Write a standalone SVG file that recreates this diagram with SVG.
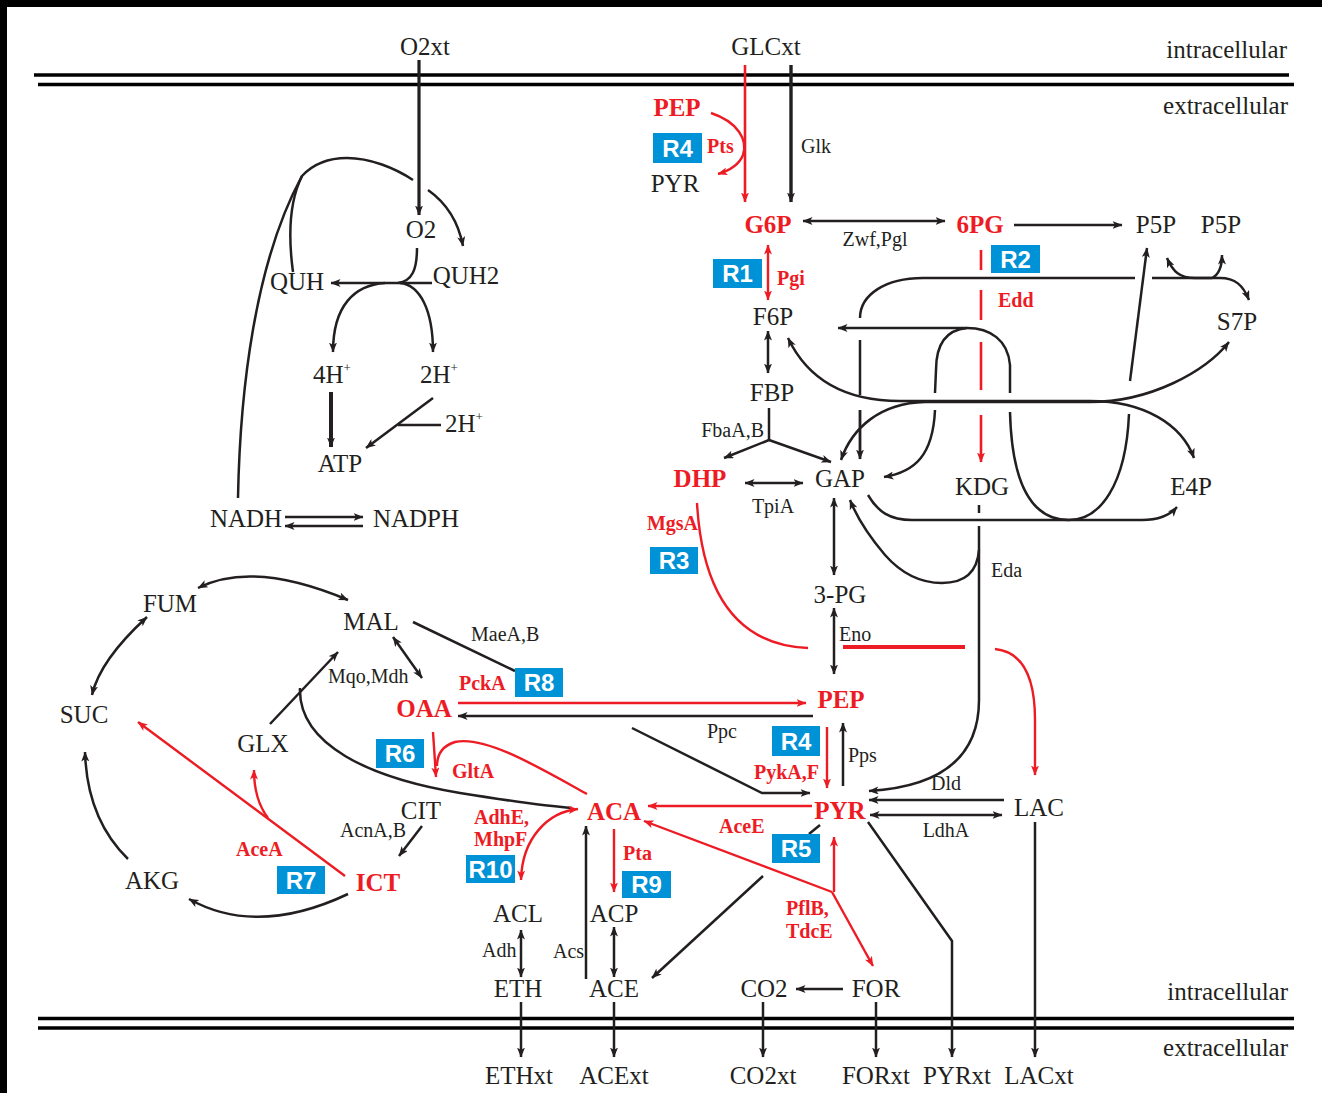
<svg xmlns="http://www.w3.org/2000/svg" width="1322" height="1093" viewBox="0 0 1322 1093">
<defs>
<marker id="ab" viewBox="0 0 10 8" refX="9.5" refY="4" markerWidth="10" markerHeight="8" markerUnits="userSpaceOnUse" orient="auto-start-reverse"><path d="M0,0 L10,4 L0,8 L2.5,4 z" fill="#231f20"/></marker>
<marker id="ar" viewBox="0 0 10 8" refX="9.5" refY="4" markerWidth="10" markerHeight="8" markerUnits="userSpaceOnUse" orient="auto-start-reverse"><path d="M0,0 L10,4 L0,8 L2.5,4 z" fill="#ed1c24"/></marker>
<style>
.k{fill:none;stroke:#231f20;stroke-width:2.5}
.r{fill:none;stroke:#ed1c24;stroke-width:2.4}
.e{marker-end:url(#ab)}
.s{marker-start:url(#ab)}
.er{marker-end:url(#ar)}
.sr{marker-start:url(#ar)}
.mem{stroke:#000;stroke-width:3.4}
text{font-family:"Liberation Serif","Times New Roman",serif}
.m{font-size:25px;fill:#231f20;text-anchor:middle}
.ms{font-size:25px;fill:#231f20;text-anchor:start}
.rm{font-size:25px;fill:#ed1c24;font-weight:bold;text-anchor:middle}
.en{font-size:20px;fill:#231f20}
.re{font-size:20px;fill:#ed1c24;font-weight:bold}
.cell{font-size:25px;fill:#231f20;text-anchor:end}
.box{fill:#0092d6}
.bt{font-family:"Liberation Sans",Arial,sans-serif;font-size:24px;font-weight:bold;fill:#fff;text-anchor:middle}
</style>
</defs>
<rect x="0" y="0" width="1322" height="1093" fill="#000"/>
<rect x="7" y="7" width="1315" height="1086" fill="#fff"/>

<g id="membranes">
<line class="mem" x1="34" y1="75" x2="1289" y2="75"/>
<line class="mem" x1="38" y1="84.5" x2="1294" y2="84.5"/>
<line class="mem" x1="38" y1="1018.5" x2="1294" y2="1018.5"/>
<line class="mem" x1="38" y1="1028" x2="1294" y2="1028"/>
<text class="cell" x="1287" y="58">intracellular</text>
<text class="cell" x="1288" y="114">extracellular</text>
<text class="cell" x="1288" y="1000">intracellular</text>
<text class="cell" x="1288" y="1056">extracellular</text>
</g>

<g id="connectors">
<!-- uptake -->
<path class="k e" style="stroke-width:3.2" d="M419,60 L419,215"/>
<path class="r er" style="stroke-width:2.6" d="M745,65 L745,202"/>
<path class="k e" style="stroke-width:3.4" d="M791,65 L791,202"/>
<path class="r er" d="M711,113 C738,122 748,140 743,155 C739,165 728,171 718,174"/>
<path class="k s e" d="M803,221 L945,221"/>
<path class="k e" d="M1014,225 L1122,225"/>
<path class="r sr er" d="M768,245 L768,300"/>
<path class="k s e" d="M768,331 L768,373"/>
<path class="k" d="M769,408 L769,440"/>
<path class="k e" d="M769,440 L724,458"/>
<path class="k e" d="M769,440 L831,462"/>
<path class="k s e" d="M745,483 L803,483"/>
<path class="k s e" d="M834,498 L834,575"/>
<path class="k s e" d="M834,608 L834,674"/>
<!-- ED pathway -->
<path class="r" style="stroke-width:2.6" d="M981,250 L981,270 M981,290 L981,320 M981,342 L981,390"/>
<path class="r er" style="stroke-width:2.6" d="M981,415 L981,462"/>
<!-- methylglyoxal -->
<path class="r" d="M697,503 C702,590 735,645 808,648"/>
<path class="r" style="stroke-width:4" d="M843,647 L965,647"/>
<path class="r er" d="M995,649 C1025,652 1035,680 1035,720 L1035,775"/>
<!-- PPP -->
<path class="k" d="M1135,278 L923,278 C885,278 860,295 860,318 M860,340 L860,395"/>
<path class="k e" style="stroke-width:2.8" d="M860,410 L860,459"/>
<path class="k e" d="M1152,278 L1220,278 C1235,278 1243,285 1249,300"/>
<path class="k s e" d="M1167,258 C1173,272 1180,278 1195,278 L1212,278 C1218,275 1222,268 1222,255"/>
<path class="k s" d="M1147,248 L1130,381"/>
<path class="k" d="M1129,414 C1126,485 1100,520 1069,520 C1035,520 1012,490 1010,412"/>
<path class="k e" d="M1010,393 L1010,365 C1008,340 990,328 967,328 L838,328"/>
<path class="k" d="M967,328 C945,330 936,345 936,370 L935,393"/>
<path class="k e" d="M935,410 C933,455 915,472 884,477"/>
<path class="k s e" d="M788,338 C808,380 845,401 900,401 L1090,401 C1145,401 1182,425 1194,458"/>
<path class="k s e" d="M841,460 C852,428 880,403 925,402 L1090,402 C1150,402 1205,372 1229,342"/>
<path class="k e" d="M868,495 C878,512 890,520 912,520 L1142,520 C1158,520 1170,515 1177,507"/>
<!-- Eda -->
<path class="k" d="M979,505 L979,513"/>
<path class="k e" d="M979,526 L979,700 C979,762 935,787 869,791"/>
<path class="k e" d="M979,550 C977,575 962,583 942,583 C920,583 900,572 885,555 C868,535 856,515 850,500"/>
<!-- respiration -->
<path class="k" d="M238,498 C240,390 255,262 302,176 C315,162 330,158 347,158 C370,158 395,168 413,180"/>
<path class="k e" d="M428,190 C445,202 458,220 463,246"/>
<path class="k" d="M293,272 C288,235 290,200 302,176"/>
<path class="k" d="M417,248 C417,270 412,281 398,283"/>
<path class="k e" d="M432,283 L331,283"/>
<path class="k e" d="M385,283 C355,285 333,305 333,352"/>
<path class="k e" d="M400,283 C420,285 433,310 433,352"/>
<path class="k e" style="stroke-width:4" d="M331,392 L331,447"/>
<path class="k e" d="M433,398 L366,448"/>
<path class="k" d="M398,425 L441,425"/>
<path class="k e" d="M285,517 L363,517"/>
<path class="k e" d="M363,526 L285,526"/>
<!-- TCA / glyoxylate -->
<path class="k s e" d="M198,588 Q253,560 348,600"/>
<path class="k s e" d="M92,695 Q100,660 147,617"/>
<path class="k e" d="M128,859 Q87,819 85,752"/>
<path class="k e" d="M348,894 Q257,937 189,899"/>
<path class="k e" d="M422,826 L399,856"/>
<path class="r er" d="M345,876 L138,722"/>
<path class="r er" d="M268,818 C258,805 254,790 254,770"/>
<path class="k e" d="M270,724 L338,652"/>
<path class="k" d="M300,688 C298,745 370,778 460,793 C510,801 545,806 572,808"/>
<path class="k s e" d="M393,637 L422,678"/>
<path class="k" d="M413,622 L515,671"/>
<path class="k e" d="M632,728 L762,793 L810,793"/>
<path class="r er" d="M458,703 L806,703"/>
<path class="k e" d="M813,716 L458,716"/>
<path class="r er" d="M433,732 L436,777"/>
<path class="r" d="M587,794 C540,768 485,735 455,742 C442,746 437,755 437,766"/>
<!-- PEP/PYR node -->
<path class="r er" d="M827,727 L827,788"/>
<path class="k e" d="M843,786 L843,723"/>
<path class="r er" d="M812,806 L648,806"/>
<path class="r er" d="M834,892 L834,837"/>
<path class="r er" d="M832,892 L644,821"/>
<path class="r er" d="M832,892 L873,966"/>
<path class="k" d="M820,825 L809,834"/>
<path class="k e" d="M763,876 L652,978"/>
<path class="k e" d="M1004,800 L869,800"/>
<path class="k s e" d="M870,815 L1002,815"/>
<!-- fermentation -->
<path class="r sr er" d="M578,809 C548,812 522,838 521,880"/>
<path class="r er" d="M614,829 L614,892"/>
<path class="k e" d="M586,979 L586,826"/>
<path class="k s e" d="M521,930 L521,977"/>
<path class="k s e" d="M614,927 L614,977"/>
<path class="k e" d="M843,989 L796,989"/>
<!-- secretion -->
<path class="k e" d="M521,1002 L521,1057"/>
<path class="k e" d="M614,1002 L614,1057"/>
<path class="k e" d="M763,1002 L763,1057"/>
<path class="k e" d="M876,1002 L876,1057"/>
<path class="k e" d="M868,822 L952,941 L952,1057"/>
<path class="k e" d="M1035,822 L1035,1057"/>
</g>

<g id="enzymes">
<text class="en" x="801" y="153">Glk</text>
<text class="en" x="875" y="246" text-anchor="middle">Zwf,Pgl</text>
<text class="en" x="764" y="437" text-anchor="end">FbaA,B</text>
<text class="en" x="773" y="513" text-anchor="middle">TpiA</text>
<text class="en" x="991" y="577">Eda</text>
<text class="en" x="839" y="641">Eno</text>
<text class="en" x="471" y="641">MaeA,B</text>
<text class="en" x="328" y="683">Mqo,Mdh</text>
<text class="en" x="707" y="738">Ppc</text>
<text class="en" x="848" y="762">Pps</text>
<text class="en" x="946" y="790" text-anchor="middle">Dld</text>
<text class="en" x="946" y="837" text-anchor="middle">LdhA</text>
<text class="en" x="340" y="837">AcnA,B</text>
<text class="en" x="482" y="957">Adh</text>
<text class="en" x="553" y="958">Acs</text>
<text class="re" x="707" y="153">Pts</text>
<text class="re" x="777" y="285">Pgi</text>
<text class="re" x="998" y="307">Edd</text>
<text class="re" x="698" y="530" text-anchor="end">MgsA</text>
<text class="re" x="459" y="690">PckA</text>
<text class="re" x="452" y="778">GltA</text>
<text class="re" x="236" y="856">AceA</text>
<text class="re" x="754" y="779">PykA,F</text>
<text class="re" x="719" y="833">AceE</text>
<text class="re" x="623" y="860">Pta</text>
<text class="re" x="474" y="824">AdhE,</text>
<text class="re" x="474" y="846">MhpF</text>
<text class="re" x="786" y="915">PflB,</text>
<text class="re" x="786" y="938">TdcE</text>
</g>

<g id="reactions">
<g id="R4a"><rect class="box" x="653" y="133" width="49" height="30"/><text class="bt" x="677.5" y="157">R4</text></g>
<g id="R1"><rect class="box" x="713" y="259" width="49" height="29"/><text class="bt" x="737.5" y="282">R1</text></g>
<g id="R2"><rect class="box" x="991" y="245" width="49" height="28"/><text class="bt" x="1015.5" y="268">R2</text></g>
<g id="R3"><rect class="box" x="650" y="547" width="48" height="27"/><text class="bt" x="674" y="569">R3</text></g>
<g id="R8"><rect class="box" x="515" y="668" width="48" height="29"/><text class="bt" x="539" y="691">R8</text></g>
<g id="R6"><rect class="box" x="376" y="739" width="48" height="29"/><text class="bt" x="400" y="762">R6</text></g>
<g id="R7"><rect class="box" x="277" y="866" width="48" height="28"/><text class="bt" x="301" y="889">R7</text></g>
<g id="R4b"><rect class="box" x="772" y="726" width="48" height="30"/><text class="bt" x="796" y="750">R4</text></g>
<g id="R5"><rect class="box" x="772" y="834" width="48" height="29"/><text class="bt" x="796" y="857">R5</text></g>
<g id="R10"><rect class="box" x="466" y="855" width="49" height="28"/><text class="bt" x="490.5" y="878">R10</text></g>
<g id="R9"><rect class="box" x="622" y="871" width="49" height="27"/><text class="bt" x="646.5" y="893">R9</text></g>
</g>

<g id="n-O2xt"><text class="m" x="425" y="55">O2xt</text></g>
<g id="n-GLCxt"><text class="m" x="766" y="55">GLCxt</text></g>
<g id="n-PEPtop"><text class="rm" x="677" y="116">PEP</text></g>
<g id="n-PYRtop"><text class="m" x="675" y="192">PYR</text></g>
<g id="n-G6P"><text class="rm" x="768" y="233">G6P</text></g>
<g id="n-6PG"><text class="rm" x="980" y="233">6PG</text></g>
<g id="n-P5P1"><text class="m" x="1156" y="233">P5P</text></g>
<g id="n-P5P2"><text class="m" x="1221" y="233">P5P</text></g>
<g id="n-S7P"><text class="m" x="1237" y="330">S7P</text></g>
<g id="n-F6P"><text class="m" x="773" y="325">F6P</text></g>
<g id="n-FBP"><text class="m" x="772" y="401">FBP</text></g>
<g id="n-DHP"><text class="rm" x="700" y="487">DHP</text></g>
<g id="n-GAP"><text class="m" x="840" y="487">GAP</text></g>
<g id="n-KDG"><text class="m" x="982" y="495">KDG</text></g>
<g id="n-E4P"><text class="m" x="1191" y="495">E4P</text></g>
<g id="n-3PG"><text class="m" x="840" y="603">3-PG</text></g>
<g id="n-PEP"><text class="rm" x="841" y="708">PEP</text></g>
<g id="n-PYR"><text class="rm" x="840" y="819">PYR</text></g>
<g id="n-LAC"><text class="m" x="1039" y="816">LAC</text></g>
<g id="n-O2"><text class="m" x="421" y="238">O2</text></g>
<g id="n-QUH"><text class="m" x="297" y="290">QUH</text></g>
<g id="n-QUH2"><text class="m" x="466" y="284">QUH2</text></g>
<g id="n-4H"><text class="ms" x="313" y="383">4H<tspan font-size="13" dy="-11">+</tspan></text></g>
<g id="n-2Ha"><text class="ms" x="420" y="383">2H<tspan font-size="13" dy="-11">+</tspan></text></g>
<g id="n-2Hb"><text class="ms" x="445" y="432">2H<tspan font-size="13" dy="-11">+</tspan></text></g>
<g id="n-ATP"><text class="m" x="340" y="472">ATP</text></g>
<g id="n-NADH"><text class="m" x="246" y="527">NADH</text></g>
<g id="n-NADPH"><text class="m" x="416" y="527">NADPH</text></g>
<g id="n-FUM"><text class="m" x="170" y="612">FUM</text></g>
<g id="n-MAL"><text class="m" x="371" y="630">MAL</text></g>
<g id="n-SUC"><text class="m" x="84" y="723">SUC</text></g>
<g id="n-OAA"><text class="rm" x="424" y="717">OAA</text></g>
<g id="n-GLX"><text class="m" x="263" y="752">GLX</text></g>
<g id="n-CIT"><text class="m" x="421" y="819">CIT</text></g>
<g id="n-ICT"><text class="rm" x="378" y="891">ICT</text></g>
<g id="n-AKG"><text class="m" x="152" y="889">AKG</text></g>
<g id="n-ACA"><text class="rm" x="614" y="820">ACA</text></g>
<g id="n-ACL"><text class="m" x="518" y="922">ACL</text></g>
<g id="n-ACP"><text class="m" x="614" y="922">ACP</text></g>
<g id="n-ETH"><text class="m" x="518" y="997">ETH</text></g>
<g id="n-ACE"><text class="m" x="614" y="997">ACE</text></g>
<g id="n-CO2"><text class="m" x="764" y="997">CO2</text></g>
<g id="n-FOR"><text class="m" x="876" y="997">FOR</text></g>
<g id="n-ETHxt"><text class="m" x="519" y="1084">ETHxt</text></g>
<g id="n-ACExt"><text class="m" x="614" y="1084">ACExt</text></g>
<g id="n-CO2xt"><text class="m" x="763" y="1084">CO2xt</text></g>
<g id="n-FORxt"><text class="m" x="876" y="1084">FORxt</text></g>
<g id="n-PYRxt"><text class="m" x="957" y="1084">PYRxt</text></g>
<g id="n-LACxt"><text class="m" x="1039" y="1084">LACxt</text></g>
</svg>
